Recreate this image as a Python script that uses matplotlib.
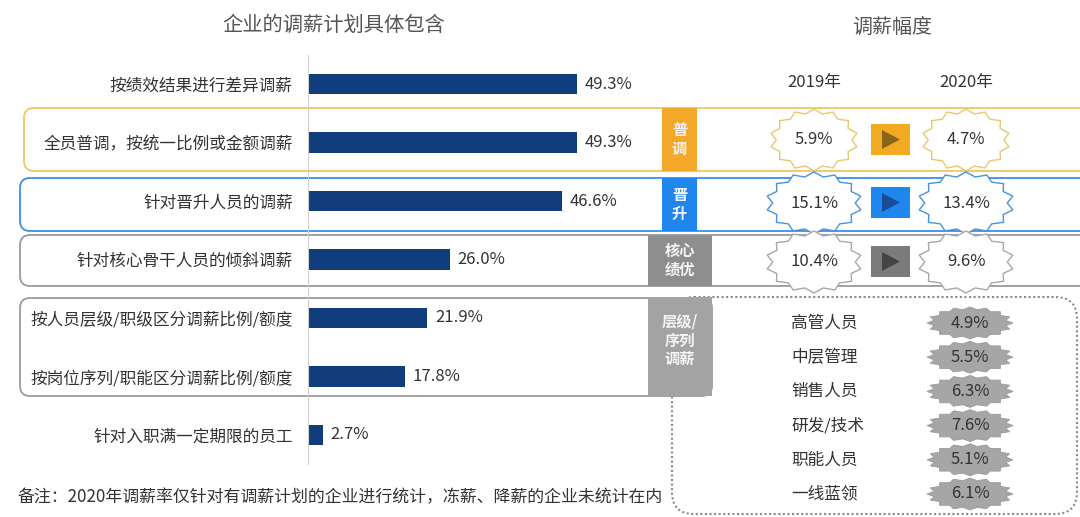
import numpy as np
import matplotlib
matplotlib.use('Agg')
import matplotlib.pyplot as plt
from matplotlib.patches import FancyBboxPatch, Rectangle, Polygon

plt.rcParams['font.family'] = ['Noto Sans CJK SC', 'DejaVu Sans']

# data
categories = ['按绩效结果进行差异调薪', '全员普调，按统一比例或金额调薪', '针对晋升人员的调薪',
              '针对核心骨干人员的倾斜调薪', '按人员层级/职级区分调薪比例/额度',
              '按岗位序列/职能区分调薪比例/额度', '针对入职满一定期限的员工']
shares = [49.3, 49.3, 46.6, 26.0, 21.9, 17.8, 2.7]

years = ['2019年', '2020年']
group_tags = ['普\n调', '晋\n升', '核心\n绩优']
rate_2019 = [5.9, 15.1, 10.4]
rate_2020 = [4.7, 13.4, 9.6]

roles = ['高管人员', '中层管理', '销售人员', '研发/技术', '职能人员', '一线蓝领']
role_rates = [4.9, 5.5, 6.3, 7.6, 5.1, 6.1]

NAVY = '#123d7c'
TXT = '#333333'
W, H = 1080, 517

fig = plt.figure(figsize=(W / 100, H / 100), dpi=100)
bg = fig.add_axes([0, 0, 1, 1])
bg.set_xlim(0, W); bg.set_ylim(H, 0); bg.axis('off')


def px_axes(x0, y0, x1, y1):
    return fig.add_axes([x0 / W, 1 - y1 / H, (x1 - x0) / W, (y1 - y0) / H])


def rbox(x0, y0, x1, y1, ec, ls='-', r=10, lw=1.3):
    bg.add_patch(FancyBboxPatch((x0, y0), x1 - x0, y1 - y0,
                                boxstyle=f'round,pad=0,rounding_size={r}',
                                fc='white', ec=ec, lw=lw, ls=ls, zorder=1))


def burst(cx, cy, rx, ry, n, ratio, **kw):
    t = np.linspace(0, 2 * np.pi, 2 * n, endpoint=False) + np.pi / 2
    r = np.where(np.arange(2 * n) % 2 == 0, 1.0, ratio)
    pts = np.column_stack([cx + rx * r * np.cos(t), cy - ry * r * np.sin(t)])
    bg.add_patch(Polygon(pts, closed=True, zorder=3, **kw))


# titles
bg.text(334, 25, '企业的调薪计划具体包含', ha='center', va='center', fontsize=14.6, color='#555555')
bg.text(892, 27, '调薪幅度', ha='center', va='center', fontsize=14.4, color='#555555')

# group frames
rbox(24, 108, 1095, 171, '#f0c760')
rbox(20, 178, 1095, 231, '#3c8fe6')
rbox(20, 235, 1095, 286, '#9a9a9a')
rbox(672, 297, 1077, 514, '#8a8a8a', ls=(0, (1, 1.2)), r=22, lw=1.5)
rbox(20, 298, 712, 396, '#9a9a9a')

# side tags
tags = [(662, 108, 35, 63, '#f4a82a', '普\n调'),
        (662, 178, 35, 53, '#1f86ee', '晋\n升'),
        (648, 235, 64, 51, '#8e8e8e', '核心\n绩优'),
        (648, 297, 64, 99, '#a3a3a3', '层级/\n序列\n调薪')]
for x, y, w, h, c, s in tags:
    bg.add_patch(Rectangle((x, y), w, h, fc=c, ec='none', zorder=2))
    bg.text(x + w / 2, y + h / 2 - (6 if h > 90 else 0), s, ha='center', va='center',
            fontsize=11, color='#f4f4f4', fontweight='bold', linespacing=1.2, zorder=4)

# bar chart
ax = px_axes(308, 54.75, 708, 464.25)
ax.set_xlim(0, 400 / 5.456)
ax.set_ylim(len(shares) - 0.5, -0.5)
ax.patch.set_alpha(0)
ax.barh(range(len(shares)), shares, height=0.35, color=NAVY)
for i, v in enumerate(shares):
    ax.text(v + 1.4, i, f'{v:.1f}%', va='center', ha='left', fontsize=12, color=TXT)
ax.set_yticks(range(len(categories)))
ax.set_yticklabels(categories, fontsize=12, color=TXT)
ax.tick_params(axis='y', length=0, pad=11)
ax.set_xticks([])
for sp in ['top', 'right', 'bottom']:
    ax.spines[sp].set_visible(False)
ax.spines['left'].set_color('#d0d0d0')
ax.spines['left'].set_linewidth(0.8)

# year-on-year rates
year_x = [814, 966]
bg.text(year_x[0], 82, years[0], ha='center', va='center', fontsize=12, color=TXT)
bg.text(year_x[1], 82, years[1], ha='center', va='center', fontsize=12, color=TXT)
star_ec = ['#e9c872', '#4a92de', '#a8a8a8']
sq_fc = ['#f2aa22', '#1f86ee', '#7b7b7b']
tri_fc = ['#8a6618', '#1a4c96', '#454545']
row_y = [140, 203, 262]
star_rx = [44, 48, 48]
for i in range(len(rate_2019)):
    y = row_y[i]
    for xc, v in zip(year_x, [rate_2019[i], rate_2020[i]]):
        burst(xc, y, star_rx[i], 31, 14, 0.86, fc='white', ec=star_ec[i], lw=1.0)
        bg.text(xc, y, f'{v:.1f}%', ha='center', va='center', fontsize=12, color=TXT, zorder=5)
    bg.add_patch(Rectangle((871, y - 16), 39, 31, fc=sq_fc[i], ec='none', zorder=3))
    bg.add_patch(Polygon([(882, y - 10), (882, y + 9), (900, y - 0.5)], closed=True,
                         fc=tri_fc[i], ec='none', zorder=4))

# rates by role
for i, (name, v) in enumerate(zip(roles, role_rates)):
    y = 323 + i * 34.2
    bg.text(791, y, name, ha='left', va='center', fontsize=12, color=TXT)
    burst(970, y, 43, 16, 16, 0.85, fc='#a6a6a6', ec='#9a9a9a', lw=0.6)
    bg.text(970, y, f'{v:.1f}%', ha='center', va='center', fontsize=12, color=TXT, zorder=5)

# footnote
bg.text(18, 497, '备注：2020年调薪率仅针对有调薪计划的企业进行统计，冻薪、降薪的企业未统计在内',
        ha='left', va='center', fontsize=12.2, color=TXT)

fig.savefig('out.png', dpi=100, facecolor='white')
